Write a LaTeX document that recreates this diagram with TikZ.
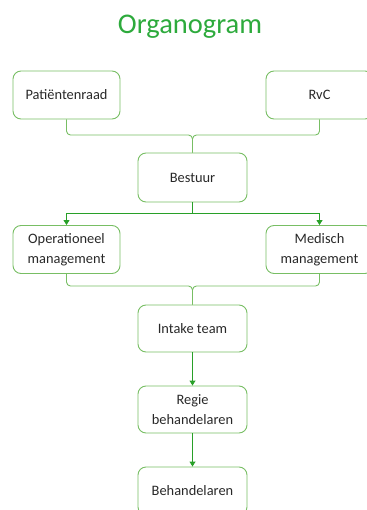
\documentclass[tikz,border=0pt]{standalone}
\usepackage{fontspec}
\setmainfont{Carlito}
\usetikzlibrary{arrows.meta}
\definecolor{boxgreen}{RGB}{120,190,100}
\definecolor{arrgreen}{RGB}{40,160,40}
\definecolor{titlegreen}{RGB}{45,170,60}
\definecolor{txt}{RGB}{40,40,40}
\tikzset{
  orgbox/.style={draw=boxgreen, line width=0.9pt, rounded corners=8pt, minimum width=107pt, minimum height=48pt, inner sep=2pt, align=center, text=txt, font=\fontsize{14.4}{19.5}\selectfont},
  bracket/.style={draw=boxgreen, line width=0.9pt, rounded corners=4pt},
  arrowline/.style={draw=arrgreen, line width=0.9pt, -{Triangle[width=6pt,length=5pt]}},
  plainline/.style={draw=arrgreen, line width=0.9pt}
}
\begin{document}
\begin{tikzpicture}[x=1pt,y=-1pt]
\useasboundingbox (0,0) rectangle (366,510);
\node[text=titlegreen, font=\fontsize{28.5}{30}\selectfont] (title) at (190,27) {Organogram};
\node[orgbox] (pat) at (66.5,95) {Patiëntenraad};
\node[orgbox] (rvc) at (319.5,95) {RvC};
\node[orgbox, minimum width=109pt, minimum height=49pt] (bes) at (192.5,177.5) {Bestuur};
\node[orgbox] (ope) at (66.5,249.5) {Operationeel\\management};
\node[orgbox] (med) at (319.5,249.5) {Medisch\\management};
\node[orgbox, minimum width=109pt, minimum height=47pt] (int) at (192.5,328.5) {Intake team};
\node[orgbox, minimum width=109pt, minimum height=47pt] (reg) at (192.5,409.5) {Regie\\behandelaren};
\node[orgbox, minimum width=109pt] (beh) at (192.5,491) {Behandelaren};
\coordinate (b1) at (192.5,135);
\coordinate (b2) at (192.5,213);
\coordinate (b3) at (192.5,286);
% top bracket
\draw[bracket] (pat.south) |- (b1) -- (bes.north);
\draw[bracket] (rvc.south) |- (b1) -- (bes.north);
% Bestuur to managements
\draw[plainline] (bes.south) -- (b2);
\draw[arrowline] (b2) -| (ope.north);
\draw[arrowline] (b2) -| (med.north);
% bottom bracket
\draw[bracket] (ope.south) |- (b3) -- (int.north);
\draw[bracket] (med.south) |- (b3) -- (int.north);
% chain
\draw[arrowline] (int.south) -- (reg.north);
\draw[arrowline] (reg.south) -- (beh.north);
\end{tikzpicture}
\end{document}
